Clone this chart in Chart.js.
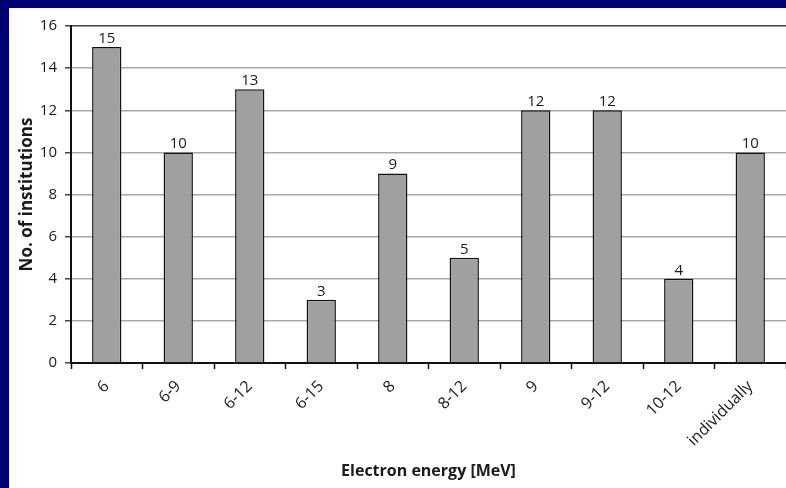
<!DOCTYPE html>
<html>
<head>
<meta charset="utf-8">
<script src="https://cdn.jsdelivr.net/npm/chart.js@4.4.1/dist/chart.umd.min.js"></script>
<style>
  html, body { margin: 0; padding: 0; background: #fff; width: 786px; height: 488px; overflow: hidden; }
  #bl { position: absolute; left: 0; top: 0; width: 9px; height: 488px; background: #000070; }
  #bt { position: absolute; left: 0; top: 0; width: 786px; height: 8px; background: #000070; }
  #c { position: absolute; left: 9px; top: 8px; display: block; }
</style>
</head>
<body>
<div id="bl"></div><div id="bt"></div>
<canvas id="c" width="777" height="480" style="width:777px;height:480px"></canvas>
<script>
const categories = ["6", "6-9", "6-12", "6-15", "8", "8-12", "9", "9-12", "10-12", "individually"];
const institutions = [15, 10, 13, 3, 9, 5, 12, 12, 4, 10];
const yTicks = [0, 2, 4, 6, 8, 10, 12, 14, 16];

const FONT = '"Open Sans", "Noto Sans", sans-serif';
const TXT = '#1a1a1a';

const valueLabels = {
  id: 'valueLabels',
  afterDatasetsDraw(chart) {
    const ctx = chart.ctx;
    const meta = chart.getDatasetMeta(0);
    ctx.save();
    ctx.font = '15px ' + FONT;
    ctx.fillStyle = TXT;
    ctx.textAlign = 'center';
    ctx.textBaseline = 'alphabetic';
    meta.data.forEach((bar, i) => {
      ctx.fillText(String(institutions[i]), bar.x, bar.y - 4);
    });
    ctx.restore();
  }
};

new Chart(document.getElementById('c'), {
  type: 'bar',
  data: {
    labels: categories,
    datasets: [{
      data: institutions,
      backgroundColor: '#a0a0a0',
      borderColor: '#111',
      borderWidth: 1.5,
      barPercentage: 0.41,
      categoryPercentage: 1.0
    }]
  },
  options: {
    responsive: false,
    animation: false,
    devicePixelRatio: 1,
    layout: { padding: { top: 18, right: 0, left: 0, bottom: 0 } },
    plugins: { legend: { display: false }, tooltip: { enabled: false } },
    scales: {
      x: {
        grid: { display: true, drawOnChartArea: false, drawTicks: true, tickLength: 6, tickColor: '#111', tickWidth: 1.5, offset: true },
        border: { display: true, color: '#111', width: 2 },
        ticks: { font: { size: 16, family: FONT }, color: TXT, minRotation: 45, maxRotation: 45, padding: 8 },
        title: { display: true, text: 'Electron energy [MeV]', font: { size: 16, weight: 'bold', family: FONT }, color: TXT, padding: { top: 0, bottom: 7 } },
        afterFit(scale) { scale.height = 125; }
      },
      y: {
        min: 0, max: 16,
        afterBuildTicks(scale) { scale.ticks = yTicks.map(v => ({ value: v })); },
        grid: {
          color: ctx => (ctx.tick && ctx.tick.value === 16) ? '#444' : '#a8a8a8',
          lineWidth: 1.5,
          tickLength: 6,
          tickColor: '#444',
          tickWidth: 1.5
        },
        border: { display: true, color: '#111', width: 2 },
        ticks: { font: { size: 15, family: FONT }, color: TXT, padding: 8 },
        title: { display: true, text: 'No. of institutions', font: { size: 17, weight: 'bold', family: FONT }, color: TXT, padding: { top: 8, bottom: 0 } },
        afterFit(scale) { scale.width = 62; }
      }
    }
  },
  plugins: [valueLabels]
});
</script>
</body>
</html>
